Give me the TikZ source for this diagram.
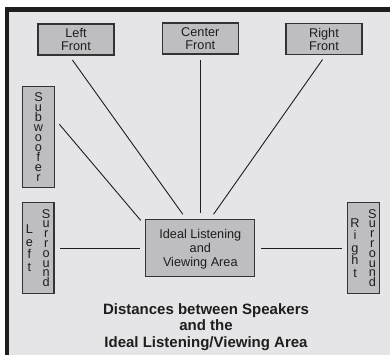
\documentclass[tikz,border=0pt]{standalone}
\usepackage{fontspec}
\setmainfont{Liberation Sans}
\usepackage{xcolor}
\usepackage{tikz}
\usetikzlibrary{positioning}

\definecolor{panelgray}{HTML}{E5E5E7}
\definecolor{boxgray}{HTML}{BEBEC1}
\definecolor{inkgray}{HTML}{1E1E1E}

% letters set one under the other, fixed pitch
\newcommand{\letterstack}[2]{\ensuremath{\vcenter{\baselineskip=#1\relax\lineskiplimit=-\maxdimen
			\halign{\hfil##\hfil\cr#2\crcr}}}}

\begin{document}
\begin{tikzpicture}[x=1pt,y=-1pt,
			speaker node/.style={rectangle, draw=black!80, line width=1.1pt, fill=boxgray, text=inkgray, inner sep=0pt, font=\fontsize{12.7}{13}\selectfont},
			front node/.style={speaker node, align=center, minimum width=76pt, minimum height=31pt},
			side node/.style={speaker node, minimum width=31.5pt, minimum height=91.7pt},
			area node/.style={speaker node, align=center, minimum width=109pt, minimum height=57.4pt, font=\fontsize{12.7}{14}\selectfont, text depth=0pt},
			title node/.style={text=inkgray, align=center, inner sep=0pt, font=\bfseries\fontsize{15}{16.7}\selectfont},
			link/.style={line width=0.9pt, inkgray, shorten <=5.5pt, shorten >=5.5pt}]
			\useasboundingbox (0,0) rectangle (390,354);
			\clip (0,0) rectangle (390,354);
			\draw[line width=4.5pt, draw=inkgray, fill=panelgray] (7,9.5) rectangle (420,390);
			%\draw[help lines] (0,0) grid (390,354);
			
			\node[front node] (1) at (76,39.5) {Left\\Front};
			\node[front node] (2) at (200.3,38.5) {Center\\Front};
			\node[front node] (3) at (324,39) {Right\\Front};
			\node[speaker node, minimum width=31.5pt, minimum height=100.7pt] (4) at (38.5,137) {\letterstack{10.1pt}{S\cr u\cr b\cr w\cr o\cr o\cr f\cr e\cr r}};
			\node[side node] (5) at (38.2,248) {\letterstack{12.5pt}{L\cr e\cr f\cr t}\hspace{9pt}\letterstack{9.8pt}{S\cr u\cr r\cr r\cr o\cr u\cr n\cr d}};
			\node[side node] (6) at (363.5,248) {\letterstack{12.6pt}{R\cr i\cr g\cr h\cr t}\hspace{8.5pt}\letterstack{9.8pt}{S\cr u\cr r\cr r\cr o\cr u\cr n\cr d}};
			\node[area node] (7) at (200.3,248) {Ideal Listening\\and\\Viewing Area};
			\node[title node, anchor=north] (8) at (206,303.1) {Distances between Speakers\\and the\\Ideal Listening/Viewing Area};
			
			\path
			(1.247) edge [link] (7.116)
			(2) edge [link] (7)
			(3.276) edge [link] (7.71)
			(4.48) edge [link, shorten <=7pt, shorten >=7pt] (7.158)
			(5) edge [link] (7)
			(7) edge [link] (6);
			
		\end{tikzpicture}
\end{document}
